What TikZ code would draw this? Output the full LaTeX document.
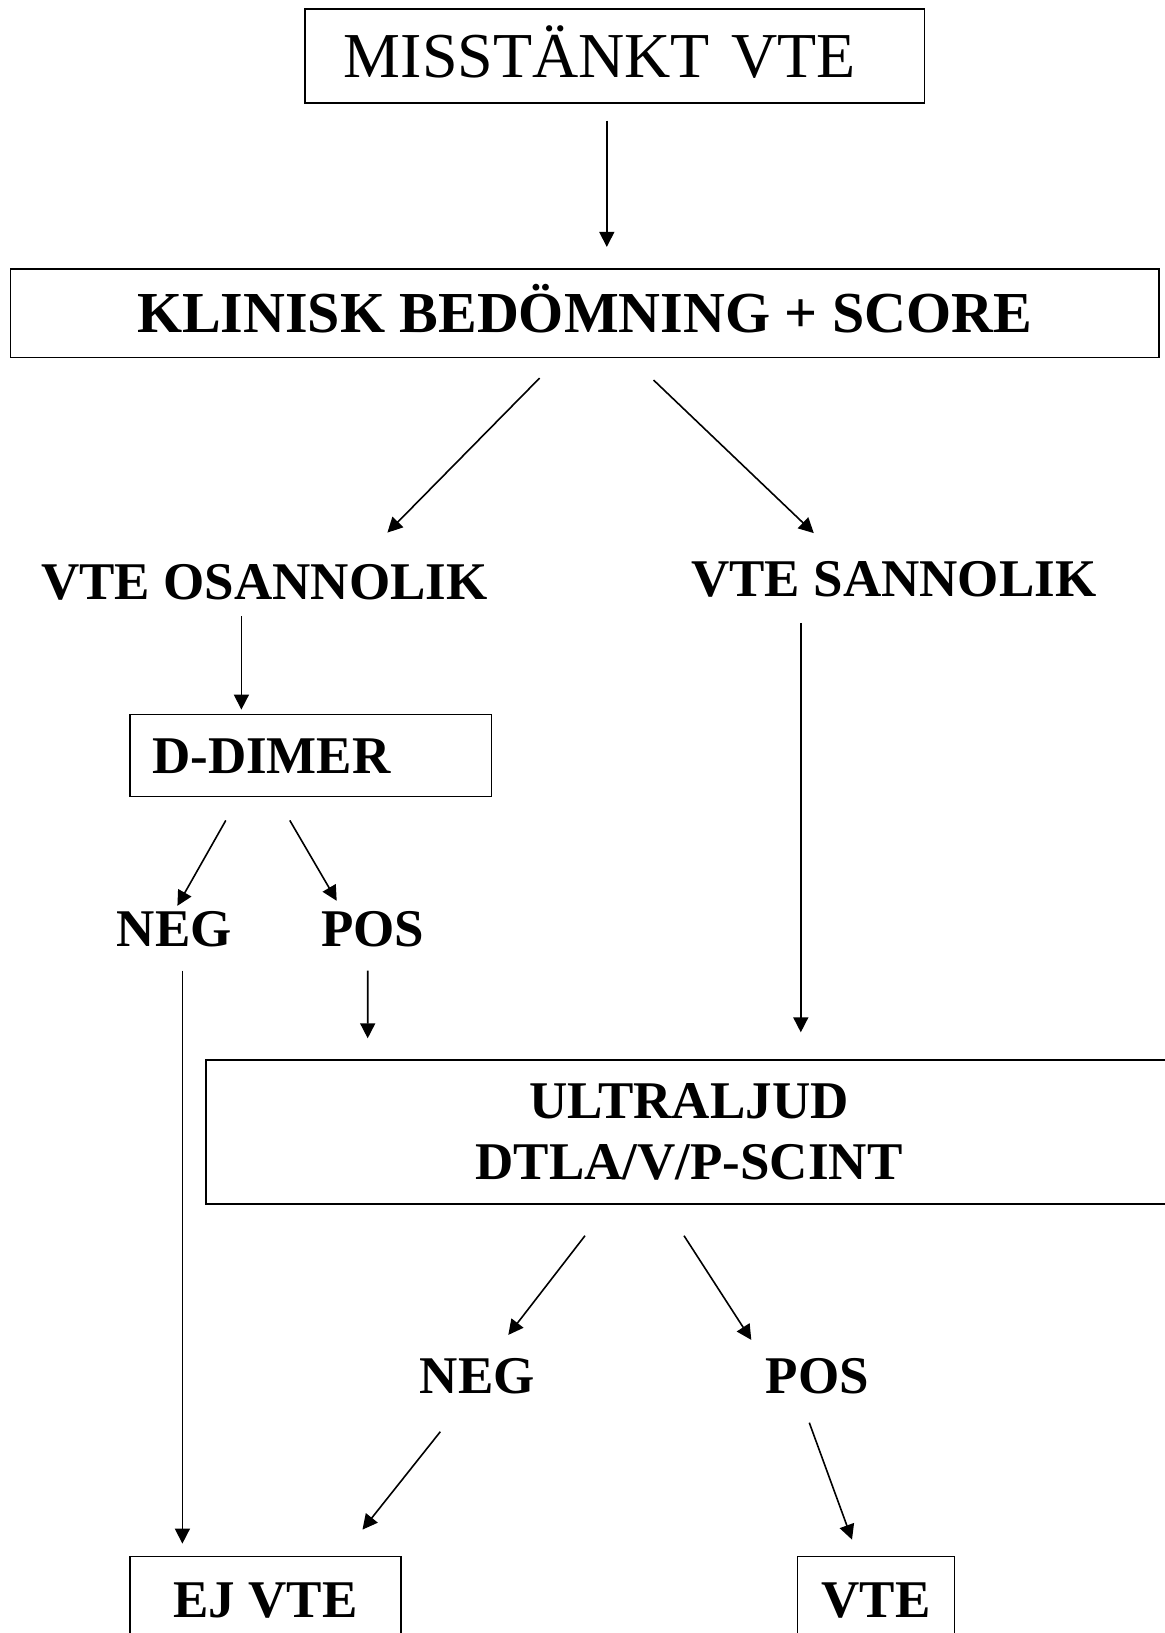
\documentclass[tikz,border=0pt]{standalone}
\usepackage{fontspec}
\setmainfont{Liberation Serif}
\usetikzlibrary{arrows.meta,calc}

\tikzset{
  box/.style={draw, rectangle, line width=0.8pt},
  txt/.style={inner sep=0pt, text height=17.5pt, text depth=0pt,
    font=\fontsize{26.5}{30.2}\selectfont\bfseries},
  arr/.style={-{Triangle[length=7.5pt,width=7.5pt]}, line width=0.8pt}
}

\begin{document}
\begin{tikzpicture}[x=0.5pt,y=0.5pt]
	\useasboundingbox (0,0) rectangle (1165,-1633);
	\clip (0,0) rectangle (1165,-1633);
	% boxes and labels
	\node[box, font=\fontsize{32}{38}\selectfont, text height=21.1pt, text depth=0pt,
		inner xsep=19.3pt, text width=271pt, align=left, minimum height=46.9pt]
		(top) at (614.8,-56) {MISSTÄNKT VTE};
	\node[box, txt, font=\fontsize{29}{34}\selectfont\bfseries, text height=19.2pt,
		minimum width=574.2pt, minimum height=44.3pt] (klin) at (584.6,-313) {KLINISK BEDÖMNING + SCORE};
	\node[txt] (osann) at (264.4,-581.5) {VTE OSANNOLIK};
	\node[txt] (sann) at (893.8,-579) {VTE SANNOLIK};
	\node[box, txt, inner xsep=11pt, text width=158.7pt, align=left,
		minimum height=41.1pt] (ddimer) at (310.8,-755.5) {D-DIMER};
	\node[txt] (neg1) at (174.4,-928.7) {NEG};
	\node[txt] (pos1) at (372.7,-928.7) {POS};
	\node[box, inner sep=0pt, align=center, font=\fontsize{26.5}{30.2}\selectfont\bfseries,
		minimum width=483pt, minimum height=71.9pt] (ultra) at (689,-1132) {ULTRALJUD\\DTLA/V/P-SCINT};
	\node[txt] (neg2) at (477.3,-1375.8) {NEG};
	\node[txt] (pos2) at (817.3,-1375.8) {POS};
	\node[box, txt, minimum width=135.4pt, minimum height=43.8pt] (ejvte) at (265.5,-1600.2) {EJ VTE};
	\node[box, txt, minimum width=78.6pt, minimum height=43.8pt] (vte) at (876,-1600.2) {VTE};
	% arrows
	\draw[arr] ($(top.south)+(-8,-17)$) -- ($(klin.north)+(22.2,21)$);
	\draw[arr] ($(klin.south)+(-45,-20)$) -- ($(osann.north)+(123,31)$);
	\draw[arr] ($(klin.south)+(69,-22)$) -- ($(sann.north)+(-80,28)$);
	\draw[arr] ($(osann.south)+(-23,-17)$) -- ($(ddimer.north)+(-69.4,4)$);
	\draw[arr] ($(ddimer.south)+(-85,-23)$) -- ($(neg1.north)+(3,5)$);
	\draw[arr] ($(ddimer.south)+(-21,-23)$) -- ($(pos1.north)+(-36,10)$);
	\draw[arr] ($(neg1.south)+(8,-24)$) -- ($(ejvte.north)+(-83.1,12)$);
	\draw[arr] ($(pos1.south)+(-5,-24)$) -- ($(ultra.north)+(-321.3,21)$);
	\draw[arr] ($(sann.south)+(-93,-26)$) -- ($(ultra.north)+(111.8,27)$);
	\draw[arr] ($(ultra.south)+(-104,-31)$) -- ($(neg2.north)+(31,23)$);
	\draw[arr] ($(ultra.south)+(-5,-31)$) -- ($(pos2.north)+(-66,18)$);
	\draw[arr] ($(neg2.south)+(-37,-38)$) -- ($(ejvte.north)+(97,26)$);
	\draw[arr] ($(pos2.south)+(-8,-29)$) -- ($(vte.north)+(-24,16)$);
\end{tikzpicture}
\end{document}
